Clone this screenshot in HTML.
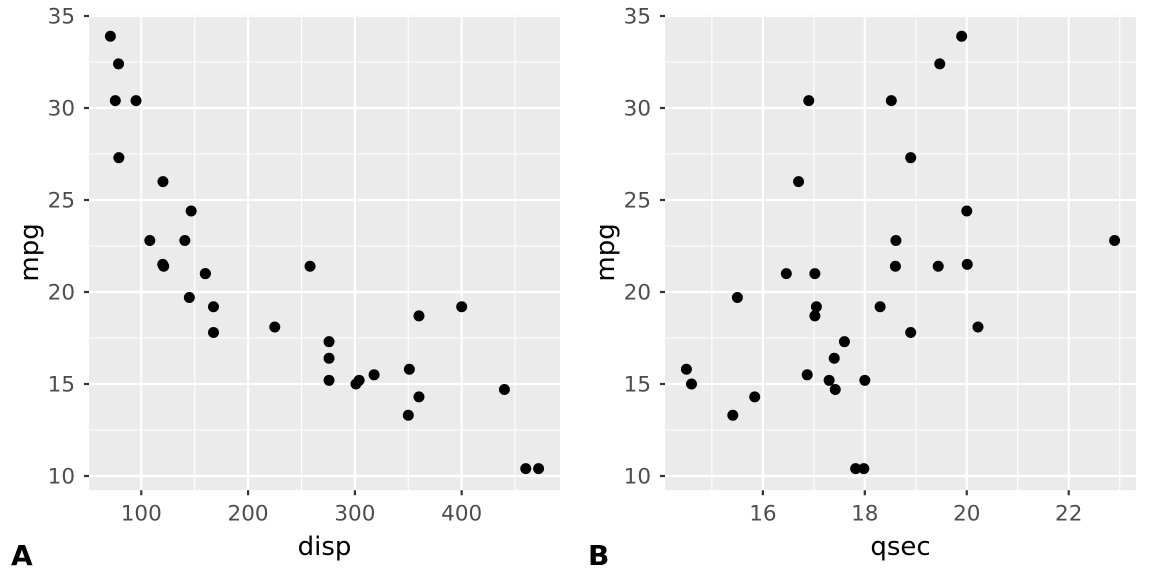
<!DOCTYPE html>
<html><head><meta charset="utf-8"><style>
body{margin:0;background:#fff}
svg{display:block;font-family:"DejaVu Sans","Liberation Sans",sans-serif}
</style></head><body>
<svg id="chart" width="1152" height="576"></svg>
<script>
const mpg=[21,21,22.8,21.4,18.7,18.1,14.3,24.4,22.8,19.2,17.8,16.4,17.3,15.2,10.4,10.4,14.7,32.4,30.4,33.9,21.5,15.5,15.2,13.3,19.2,27.3,26,30.4,15.8,19.7,15,21.4];
const disp=[160,160,108,258,360,225,360,146.7,140.8,167.6,167.6,275.8,275.8,275.8,472,460,440,78.7,75.7,71.1,120.1,318,304,350,400,79,120.3,95.1,351,145,301,121];
const qsec=[16.46,17.02,18.61,19.44,17.02,20.22,15.84,20,22.9,18.3,18.9,17.4,17.6,18,17.98,17.82,17.42,19.47,18.52,19.9,20.01,16.87,17.3,15.41,17.05,18.9,16.7,16.9,14.5,15.5,14.6,18.6];
const yTicks=[10,15,20,25,30,35];
const yMinor=[12.5,17.5,22.5,27.5,32.5];
const dispTicks=[100,200,300,400];
const dispMinor=[150,250,350,450];
const qsecTicks=[16,18,20,22];
const qsecMinor=[15,17,19,21,23];

const NS="http://www.w3.org/2000/svg";
const svg=document.getElementById('chart');
function el(tag,attrs,parent){const e=document.createElementNS(NS,tag);for(const k in attrs)e.setAttribute(k,attrs[k]);(parent||svg).appendChild(e);return e;}
const yScale=v=>476+(10-v)*18.4;

function panel(px0,px1,xv,xmin,xmax,xt,xm,xtitle,tag,tagX,pfx){
  const g=el('g',{});
  
  
  const pad=(xmax-xmin)*0.05,lo=xmin-pad,hi=xmax+pad;
  const xs=v=>px0+(v-lo)/(hi-lo)*(px1-px0);
  const top=yScale(35.075),bot=yScale(9.225);
  const bg=el('rect',{x:px0,y:top,width:px1-px0,height:bot-top,fill:'#ebebeb'},g);
  
  
  yMinor.forEach(v=>el('line',{x1:px0,x2:px1,y1:yScale(v),y2:yScale(v),stroke:'#fff','stroke-width':1.1},g));
  xm.forEach(v=>{const x=xs(v);if(x>px0&&x<px1)el('line',{x1:x,x2:x,y1:top,y2:bot,stroke:'#fff','stroke-width':1.1},g);});
  yTicks.forEach(v=>{const y=yScale(v);
    el('line',{x1:px0,x2:px1,y1:y,y2:y,stroke:'#fff','stroke-width':2.2},g);
    el('line',{x1:px0-5,x2:px0,y1:y,y2:y,stroke:'#333','stroke-width':2.2},g);
    const t=el('text',{x:px0-14,y:y+7.5,'text-anchor':'end','font-size':21.5,fill:'#4d4d4d'},g);t.textContent=v;
    
    
  });
  xt.forEach(v=>{const x=xs(v);
    el('line',{x1:x,x2:x,y1:top,y2:bot,stroke:'#fff','stroke-width':2.2},g);
    el('line',{x1:x,x2:x,y1:bot,y2:bot+5,stroke:'#333','stroke-width':2.2},g);
    const t=el('text',{x:x,y:bot+30,'text-anchor':'middle','font-size':21.5,fill:'#4d4d4d'},g);t.textContent=v;
    
    
  });
  xv.forEach((v,i)=>{const c=el('circle',{cx:xs(v),cy:yScale(mpg[i]),r:5.5,fill:'#000'},g);
    
    
  });
  const xt1=el('text',{x:(px0+px1)/2,y:555,'text-anchor':'middle','font-size':26,fill:'#000'},g);xt1.textContent=xtitle;
  
  
  const yt=el('text',{x:0,y:0,'text-anchor':'middle','font-size':26,fill:'#000',transform:`translate(${px0-51},${(top+bot)/2}) rotate(-90)`},g);yt.textContent='mpg';
  
  
  const tg=el('text',{x:tagX,y:565,'font-size':28,'font-weight':'bold',fill:'#000'},g);tg.textContent=tag;
  
  
}
panel(89,560,disp,71.1,472,dispTicks,dispMinor,'disp','A',11,'disp');
panel(665,1136,qsec,14.5,22.9,qsecTicks,qsecMinor,'qsec','B',588,'qsec');
</script>
</body></html>
